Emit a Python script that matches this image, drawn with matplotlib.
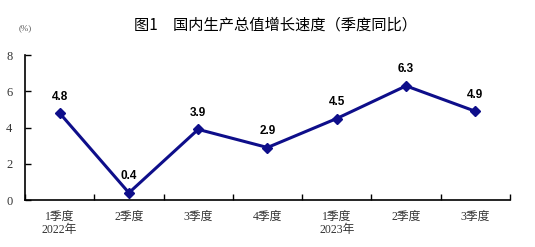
import matplotlib
matplotlib.use("Agg")
import matplotlib.pyplot as plt

quarters = ["1季度\n2022年", "2季度", "3季度", "4季度", "1季度\n2023年", "2季度", "3季度"]
growth = [4.8, 0.4, 3.9, 2.9, 4.5, 6.3, 4.9]
yticks = [0, 2, 4, 6, 8]
title = "图1　国内生产总值增长速度（季度同比）"

serif = ["Liberation Serif", "Noto Sans CJK SC"]
sans = ["Noto Sans CJK SC", "DejaVu Sans"]

fig = plt.figure(figsize=(5.35, 2.47), dpi=100)
ax = fig.add_axes([0.0467, 0.19, 0.9065, 0.587])

x = list(range(len(growth)))
ax.plot(x, growth, color="#0e0e8a", lw=2.2, marker="D", ms=5, zorder=3)
for xi, v in zip(x, growth):
    ax.annotate(f"{v}", (xi, v), xytext=(0, 7.5), textcoords="offset points",
                ha="center", va="bottom", fontsize=8.5, fontweight="bold",
                family=["Liberation Sans", "DejaVu Sans"])

ax.set_xlim(-0.5, len(growth) - 0.5)
ax.set_ylim(0, 8)
ax.set_yticks(yticks)
ax.set_yticklabels([str(t) for t in yticks], family=serif, fontsize=9, color="#333333")

ax.set_xticks([i - 0.5 for i in range(len(growth) + 1)])
ax.set_xticklabels([])
ax.set_xticks(x, minor=True)
ax.set_xticklabels(quarters, minor=True, family=serif, fontsize=8.5, color="#333333", linespacing=1.1)
ax.tick_params(axis="x", which="minor", length=0, pad=8)
ax.tick_params(axis="x", which="major", direction="in", length=4, width=1)
ax.tick_params(axis="y", direction="in", length=4, width=1, pad=9)

for s in ["top", "right"]:
    ax.spines[s].set_visible(False)
for s in ["left", "bottom"]:
    ax.spines[s].set_linewidth(1.2)

fig.text(0.515, 0.9, title, ha="center", va="center", fontsize=11, family=sans)
fig.text(0.047, 0.885, "(%)", ha="center", va="center", fontsize=6.5, color="#555555", family=serif)

fig.savefig("out.png", dpi=100)
